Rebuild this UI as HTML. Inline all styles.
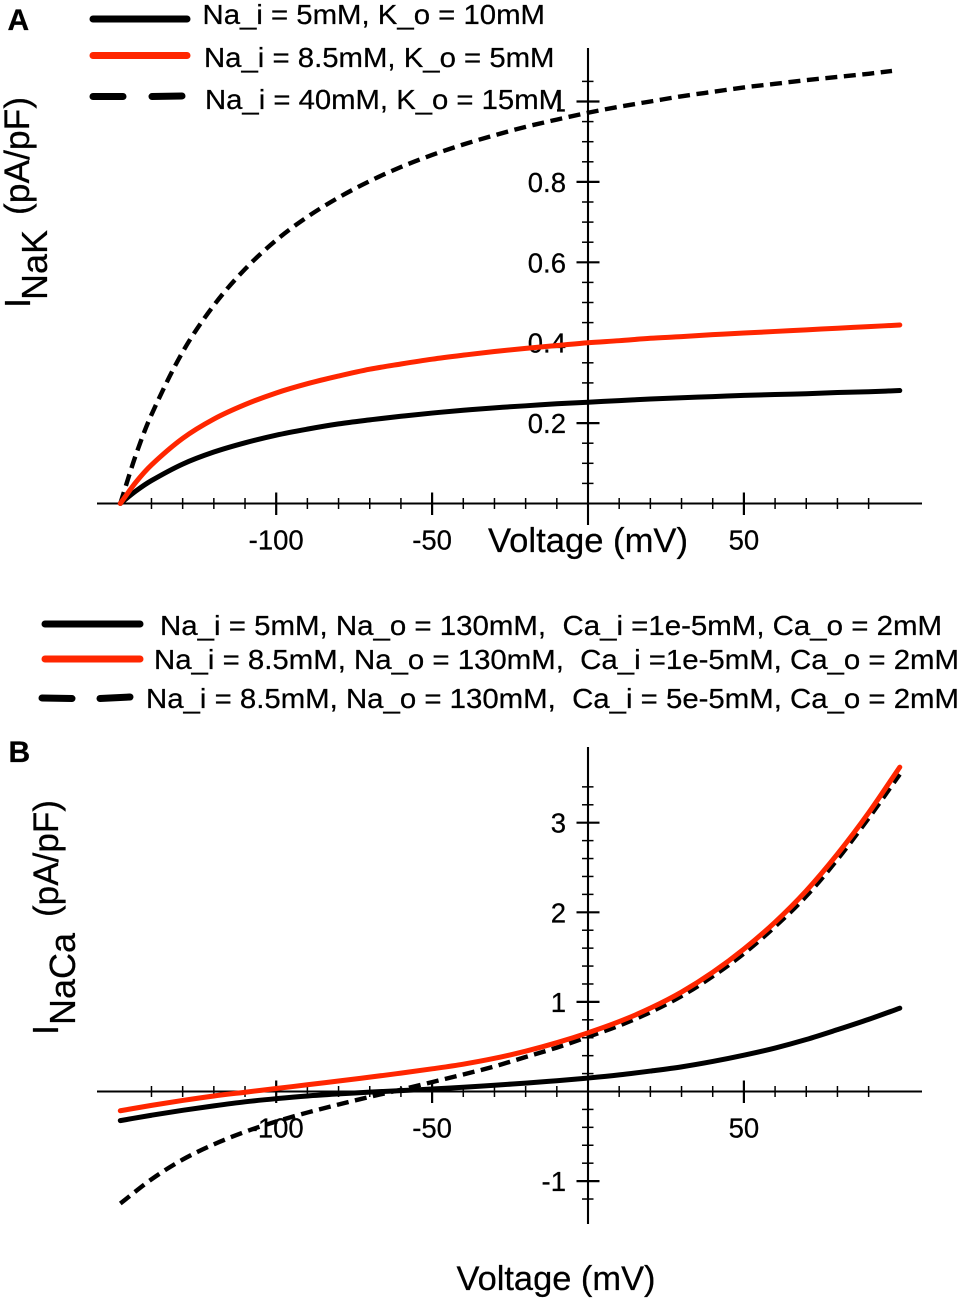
<!DOCTYPE html>
<html lang="en">
<head>
<meta charset="utf-8">
<title>I-V curves for INaK and INaCa</title>
<style>
html,body{margin:0;padding:0;background:#fff;}
svg{display:block;}
text{font-family:"Liberation Sans",Arial,sans-serif;fill:#000;stroke:#000;stroke-width:0.25px;white-space:pre;}
.leg{font-size:27.5px;}
.tick{font-size:27.5px;}
.title{font-size:34px;}
.ylab{font-size:36px;}
.ylab2{font-size:35px;}
.panel{font-size:30px;font-weight:bold;}
</style>
</head>
<body>
<svg id="fig" xmlns="http://www.w3.org/2000/svg" width="961" height="1301" viewBox="0 0 961 1301">
  <rect x="0" y="0" width="961" height="1301" fill="#fff"/>
  <g id="panelA"></g>
  <g id="panelB"></g>

  <rect x="200" y="84" width="357" height="31" fill="#fff"/>
  <text class="panel" x="7.5" y="30">A</text>
  <text class="panel" x="8.5" y="762">B</text>

  <g>
    <line x1="93" y1="19" x2="187" y2="19" stroke="#000" stroke-width="7" stroke-linecap="round"/>
    <text class="leg" x="202.5" y="24" textLength="342.5" lengthAdjust="spacingAndGlyphs">Na_i = 5mM, K_o = 10mM</text>
    <line x1="93" y1="55.5" x2="187" y2="55.5" stroke="#ff2600" stroke-width="7" stroke-linecap="round"/>
    <text class="leg" x="204" y="67" textLength="350.5" lengthAdjust="spacingAndGlyphs">Na_i = 8.5mM, K_o = 5mM</text>
    <line x1="93" y1="96.5" x2="123" y2="96.5" stroke="#000" stroke-width="7" stroke-linecap="round"/>
    <line x1="152" y1="96.5" x2="182" y2="96" stroke="#000" stroke-width="7" stroke-linecap="round"/>
    <text class="leg" x="205" y="109" textLength="358" lengthAdjust="spacingAndGlyphs">Na_i = 40mM, K_o = 15mM</text>
  </g>

  <g>
    <line x1="45" y1="624" x2="140" y2="624" stroke="#000" stroke-width="7" stroke-linecap="round"/>
    <text class="leg" x="160" y="635" textLength="782" lengthAdjust="spacingAndGlyphs">Na_i = 5mM, Na_o = 130mM,  Ca_i =1e-5mM, Ca_o = 2mM</text>
    <line x1="45" y1="659" x2="140" y2="659" stroke="#ff2600" stroke-width="7" stroke-linecap="round"/>
    <text class="leg" x="154" y="669" textLength="805" lengthAdjust="spacingAndGlyphs">Na_i = 8.5mM, Na_o = 130mM,  Ca_i =1e-5mM, Ca_o = 2mM</text>
    <line x1="42" y1="698" x2="72" y2="698.5" stroke="#000" stroke-width="7" stroke-linecap="round"/>
    <line x1="100" y1="698.5" x2="130" y2="697" stroke="#000" stroke-width="7" stroke-linecap="round"/>
    <text class="leg" x="146" y="708" textLength="813" lengthAdjust="spacingAndGlyphs">Na_i = 8.5mM, Na_o = 130mM,  Ca_i = 5e-5mM, Ca_o = 2mM</text>
  </g>

  <text class="title" x="488" y="552" textLength="200" lengthAdjust="spacingAndGlyphs">Voltage (mV)</text>
  <text class="title" x="456.5" y="1290" textLength="199" lengthAdjust="spacingAndGlyphs">Voltage (mV)</text>

  <g>
    <text class="ylab" transform="translate(30,308) rotate(-90)">I</text>
    <text class="ylab" transform="translate(47,300) rotate(-90)" textLength="70" lengthAdjust="spacingAndGlyphs">NaK</text>
    <text class="ylab2" transform="translate(29,215) rotate(-90)" textLength="118" lengthAdjust="spacingAndGlyphs">(pA/pF)</text>
  </g>
  <g>
    <text class="ylab" transform="translate(58,1035) rotate(-90)">I</text>
    <text class="ylab" transform="translate(75,1025) rotate(-90)" textLength="92" lengthAdjust="spacingAndGlyphs">NaCa</text>
    <text class="ylab2" transform="translate(58,917) rotate(-90)" textLength="117" lengthAdjust="spacingAndGlyphs">(pA/pF)</text>
  </g>
</svg>
<script>
var voltageA = [-150,-145,-140,-130,-120,-110,-100,-90,-80,-70,-60,-50,-40,-30,-20,-10,0,10,20,30,40,50,60,70,80,90,100];
var inakBlack = [0,0.031,0.057,0.098,0.128,0.151,0.170,0.185,0.198,0.208,0.217,0.225,0.232,0.238,0.243,0.248,0.252,0.256,0.260,0.263,0.266,0.269,0.271,0.273,0.276,0.278,0.281];
var inakRed = [0,0.053,0.096,0.162,0.210,0.246,0.275,0.298,0.317,0.334,0.347,0.359,0.369,0.378,0.386,0.393,0.400,0.405,0.411,0.415,0.420,0.424,0.428,0.432,0.436,0.440,0.444];
var voltageADashed = [-150,-145,-140,-130,-120,-110,-100,-90,-80,-70,-60,-50,-40,-30,-20,-10,0,10,20,30,40,50,60,70,80,90,97.5];
var inakDashed = [0,0.121,0.221,0.377,0.493,0.583,0.655,0.713,0.761,0.802,0.837,0.867,0.893,0.916,0.937,0.955,0.972,0.987,1.000,1.013,1.024,1.035,1.044,1.053,1.061,1.069,1.076];

var voltageB = [-150,-140,-130,-120,-110,-100,-90,-80,-70,-60,-50,-40,-30,-20,-10,0,10,20,30,40,50,60,70,80,90,100];
var incaBlack = [-0.325,-0.265,-0.21,-0.16,-0.115,-0.08,-0.05,-0.027,-0.007,0.01,0.028,0.048,0.07,0.094,0.12,0.15,0.185,0.228,0.275,0.335,0.405,0.485,0.58,0.69,0.805,0.93];
var incaRed = [-0.215,-0.155,-0.10,-0.05,-0.008,0.033,0.075,0.117,0.16,0.205,0.253,0.305,0.37,0.45,0.545,0.655,0.78,0.93,1.11,1.33,1.59,1.89,2.24,2.65,3.11,3.62];
var incaDashed = [-1.25,-0.98,-0.76,-0.59,-0.45,-0.335,-0.235,-0.145,-0.06,0.02,0.105,0.19,0.28,0.385,0.49,0.61,0.735,0.885,1.065,1.285,1.54,1.84,2.18,2.59,3.05,3.54];

var xMajorTicks = [-100,-50,50];
var xMinorTicks = [-140,-130,-120,-110,-90,-80,-70,-60,-40,-30,-20,-10,10,20,30,40,60,70,80,90];
var yMajorTicksA = [0.2,0.4,0.6,0.8,1];
var yLabelsA = ['0.2','0.4','0.6','0.8','1'];
var yMinorTicksA = [0.05,0.1,0.15,0.25,0.3,0.35,0.45,0.5,0.55,0.65,0.7,0.75,0.85,0.9,0.95,1.05];
var yMajorTicksB = [-1,1,2,3];
var yLabelsB = ['-1','1','2','3'];
var yMinorTicksB = [-1.2,-0.8,-0.6,-0.4,-0.2,0.2,0.4,0.6,0.8,1.2,1.4,1.6,1.8,2.2,2.4,2.6,2.8,3.2,3.4];

var NS = 'http://www.w3.org/2000/svg';
function xScale(v){ return 588 + 3.118 * v; }
function yScaleA(v){ return 503.5 - 402 * v; }
function yScaleB(v){ return 1091.5 - 89.6 * v; }

function addLine(parent, name, x1, y1, x2, y2, w){
  var el = document.createElementNS(NS, 'line');
  
  
  el.setAttribute('x1', x1);
  el.setAttribute('y1', y1);
  el.setAttribute('x2', x2);
  el.setAttribute('y2', y2);
  el.setAttribute('stroke', '#000');
  el.setAttribute('stroke-width', w);
  parent.appendChild(el);
}
function addLabel(parent, name, str, x, y, anchor){
  var el = document.createElementNS(NS, 'text');
  
  
  el.setAttribute('class', 'tick');
  el.setAttribute('x', x);
  el.setAttribute('y', y);
  el.setAttribute('text-anchor', anchor);
  el.textContent = str;
  parent.appendChild(el);
}
/* Smooth path through the data points (Catmull-Rom style, handles uneven spacing). */
function smoothPath(px, py){
  var n = px.length, m = [], i;
  for (i = 0; i < n; i++) {
    if (i === 0) { m[i] = (py[1] - py[0]) / (px[1] - px[0]); }
    else if (i === n - 1) { m[i] = (py[n-1] - py[n-2]) / (px[n-1] - px[n-2]); }
    else { m[i] = (py[i+1] - py[i-1]) / (px[i+1] - px[i-1]); }
  }
  var d = 'M' + px[0].toFixed(2) + ' ' + py[0].toFixed(2);
  for (i = 0; i < n - 1; i++) {
    var h = (px[i+1] - px[i]) / 3;
    d += 'C' + (px[i] + h).toFixed(2) + ' ' + (py[i] + m[i] * h).toFixed(2) + ' ' +
         (px[i+1] - h).toFixed(2) + ' ' + (py[i+1] - m[i+1] * h).toFixed(2) + ' ' +
         px[i+1].toFixed(2) + ' ' + py[i+1].toFixed(2);
  }
  return d;
}
function addCurve(parent, name, xs, ys, yScale, color, dash, w){
  var el = document.createElementNS(NS, 'path');
  
  
  el.setAttribute('d', smoothPath(xs.map(xScale), ys.map(yScale)));
  el.setAttribute('fill', 'none');
  el.setAttribute('stroke', color);
  el.setAttribute('stroke-width', w);
  el.setAttribute('stroke-linejoin', 'round');
  if (dash) {
    el.setAttribute('stroke-dasharray', dash);
  } else {
    el.setAttribute('stroke-linecap', 'round');
  }
  parent.appendChild(el);
}
function drawAxes(g, axisY, yScale, top, bottom, yMajor, yLabels, yMinor, xLabelY, suffix){
  addLine(g, 'x-axis-' + suffix, 97, axisY, 922, axisY, 2.1);
  addLine(g, 'y-axis-' + suffix, 588, top, 588, bottom, 2.1);
  xMinorTicks.forEach(function(v){
    addLine(g, 'x-minor-tick-' + suffix, xScale(v), axisY - 5.5, xScale(v), axisY + 5.5, 1.5);
  });
  xMajorTicks.forEach(function(v){
    addLine(g, 'x-major-tick-' + suffix, xScale(v), axisY - 11, xScale(v), axisY + 11.5, 2.2);
    addLabel(g, 'x-tick-label-' + suffix, String(v), xScale(v), xLabelY, 'middle');
  });
  yMinor.forEach(function(v){
    addLine(g, 'y-minor-tick-' + suffix, 582, yScale(v), 593.5, yScale(v), 1.5);
  });
  yMajor.forEach(function(v, i){
    addLine(g, 'y-major-tick-' + suffix, 576.5, yScale(v), 599.5, yScale(v), 2.2);
    addLabel(g, 'y-tick-label-' + suffix, yLabels[i], 566, yScale(v) + 10, 'end');
  });
}

var panelA = document.getElementById('panelA');
var panelB = document.getElementById('panelB');
drawAxes(panelA, 503.5, yScaleA, 48, 525, yMajorTicksA, yLabelsA, yMinorTicksA, 549.5, 'a');
drawAxes(panelB, 1091.5, yScaleB, 747, 1224, yMajorTicksB, yLabelsB, yMinorTicksB, 1137.5, 'b');

addCurve(panelA, 'series-a-black', voltageA, inakBlack, yScaleA, '#000', null, 5);
addCurve(panelA, 'series-a-dashed', voltageADashed, inakDashed, yScaleA, '#000', '12 6.56', 4.4);
addCurve(panelA, 'series-a-red', voltageA, inakRed, yScaleA, '#ff2600', null, 5);

addCurve(panelB, 'series-b-black', voltageB, incaBlack, yScaleB, '#000', null, 5);
addCurve(panelB, 'series-b-dashed', voltageB, incaDashed, yScaleB, '#000', '12 6.5', 4.4);
addCurve(panelB, 'series-b-red', voltageB, incaRed, yScaleB, '#ff2600', null, 5);
</script>
</body>
</html>
